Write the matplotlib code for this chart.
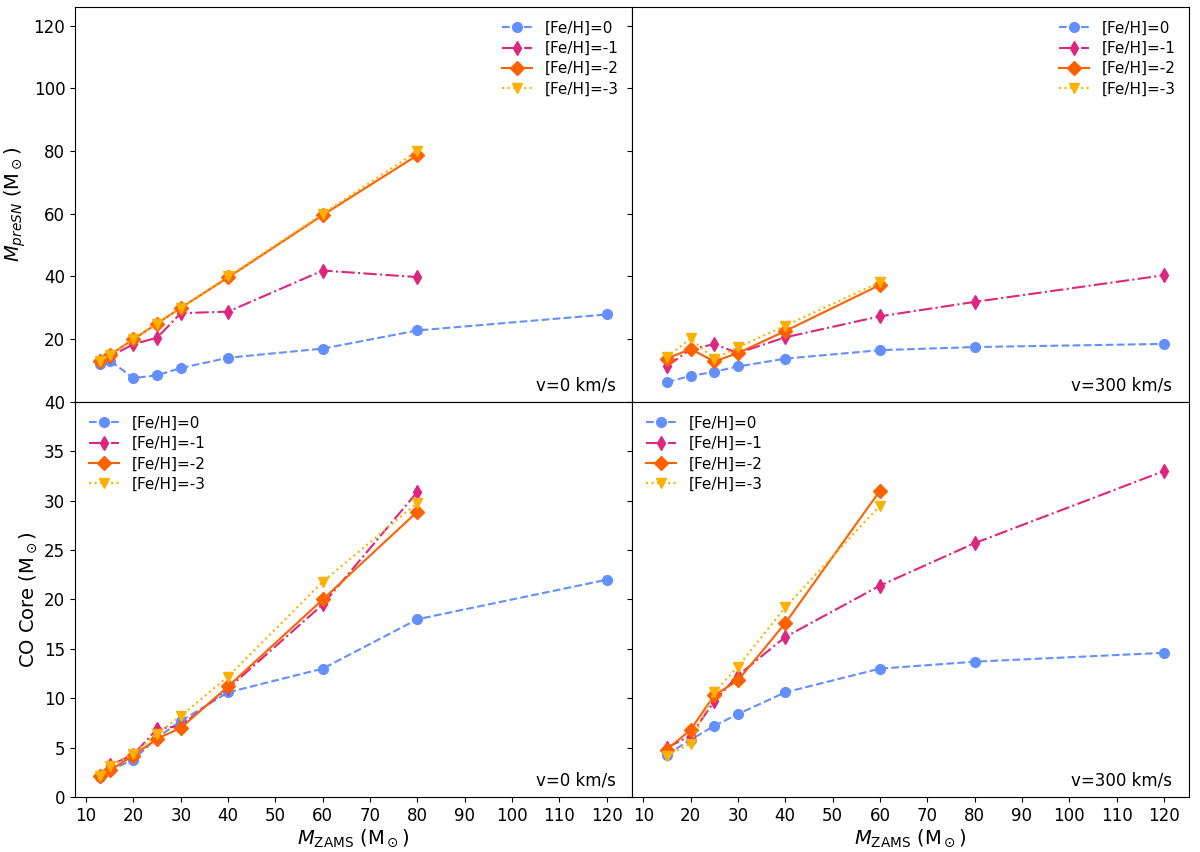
import matplotlib

matplotlib.use("Agg")
import matplotlib.pyplot as plt

# ZAMS masses
m_v0 = [13, 15, 20, 25, 30, 40, 60, 80, 120]
m_v0_low = [13, 15, 20, 25, 30, 40, 60, 80]
m_v300 = [15, 20, 25, 30, 40, 60, 80, 120]
m_v300_low = [15, 20, 25, 30, 40, 60]

# pre-SN mass, v=0
presn_v0_fe0 = [12.1, 13.2, 7.6, 8.5, 10.8, 14.1, 17.0, 22.8, 27.9]
presn_v0_fe1 = [13.0, 14.5, 18.4, 20.5, 28.3, 28.8, 41.9, 39.8]
presn_v0_fe2 = [13.2, 15.0, 20.0, 25.0, 30.0, 39.7, 59.6, 78.7]
presn_v0_fe3 = [13.0, 15.0, 20.0, 25.0, 30.0, 40.0, 60.0, 80.0]

# pre-SN mass, v=300
presn_v300_fe0 = [6.3, 8.3, 9.6, 11.3, 13.8, 16.5, 17.5, 18.5]
presn_v300_fe1 = [11.4, 16.8, 18.4, 15.6, 20.6, 27.3, 31.9, 40.4]
presn_v300_fe2 = [13.8, 16.9, 12.9, 15.6, 22.6, 37.3]
presn_v300_fe3 = [14.3, 20.3, 13.7, 17.4, 24.3, 38.2]

# CO core mass, v=0
co_v0_fe0 = [2.0, 2.7, 3.8, 6.0, 7.7, 10.6, 13.0, 18.0, 22.0]
co_v0_fe1 = [2.1, 3.2, 4.3, 6.9, 7.2, 11.0, 19.5, 30.9]
co_v0_fe2 = [2.1, 2.7, 4.2, 5.9, 7.0, 11.2, 20.0, 28.9]
co_v0_fe3 = [2.1, 3.1, 4.4, 6.4, 8.2, 12.2, 21.8, 29.8]

# CO core mass, v=300
co_v300_fe0 = [4.3, 5.8, 7.2, 8.4, 10.6, 13.0, 13.7, 14.6]
co_v300_fe1 = [5.0, 6.2, 9.7, 12.3, 16.2, 21.4, 25.7, 33.0]
co_v300_fe2 = [4.8, 6.8, 10.3, 11.8, 17.6, 31.0]
co_v300_fe3 = [4.2, 5.4, 10.6, 13.2, 19.2, 29.5]

labels = ["[Fe/H]=0", "[Fe/H]=-1", "[Fe/H]=-2", "[Fe/H]=-3"]
colors = ["#648FFF", "#DC267F", "#FE6100", "#FFB000"]
markers = ["o", "d", "D", "v"]
styles = ["--", "-.", "-", ":"]

panels = [
    (0, 0, m_v0, m_v0_low, [presn_v0_fe0, presn_v0_fe1, presn_v0_fe2, presn_v0_fe3], "v=0 km/s", "upper right"),
    (0, 1, m_v300, m_v300_low, [presn_v300_fe0, presn_v300_fe1, presn_v300_fe2, presn_v300_fe3], "v=300 km/s", "upper right"),
    (1, 0, m_v0, m_v0_low, [co_v0_fe0, co_v0_fe1, co_v0_fe2, co_v0_fe3], "v=0 km/s", "upper left"),
    (1, 1, m_v300, m_v300_low, [co_v300_fe0, co_v300_fe1, co_v300_fe2, co_v300_fe3], "v=300 km/s", "upper left"),
]

plt.rcParams["font.size"] = 12
fig, axes = plt.subplots(2, 2, figsize=(12, 8.52), sharex=True, sharey="row")
fig.subplots_adjust(left=0.0625, right=0.991, top=0.992, bottom=0.0645, hspace=0, wspace=0)

for r, c, m_all, m_low, series, vlabel, loc in panels:
    ax = axes[r, c]
    for i, ys in enumerate(series):
        # full mass grid if the series covers it, otherwise the low-mass subset
        xs = m_all if len(ys) == len(m_all) else m_low
        ax.plot(xs, ys, ls=styles[i], marker=markers[i], color=colors[i],
                ms=7, lw=1.5, label=labels[i])
    ax.text(0.97, 0.02, vlabel, transform=ax.transAxes, ha="right", va="bottom", fontsize=12)
    ax.legend(loc=loc, frameon=False, fontsize=11, labelspacing=0.35)

axes[0, 0].set_ylim(0, 126)
axes[0, 0].set_yticks([20, 40, 60, 80, 100, 120])
axes[1, 0].set_ylim(0, 40)
axes[1, 0].set_yticks(range(0, 41, 5))
axes[1, 0].set_xticks(range(10, 121, 10))
for ax in axes[:, 1]:
    ax.tick_params(labelleft=False)

axes[0, 0].set_ylabel(r"$M_{preSN}$ (M$_\odot$)", fontsize=14)
axes[1, 0].set_ylabel(r"CO Core (M$_\odot$)", fontsize=14)
axes[1, 0].set_xlabel(r"$M_{\rm ZAMS}$ (M$_\odot$)", fontsize=14, labelpad=2)
axes[1, 1].set_xlabel(r"$M_{\rm ZAMS}$ (M$_\odot$)", fontsize=14, labelpad=2)

fig.savefig("out.png", dpi=100)
